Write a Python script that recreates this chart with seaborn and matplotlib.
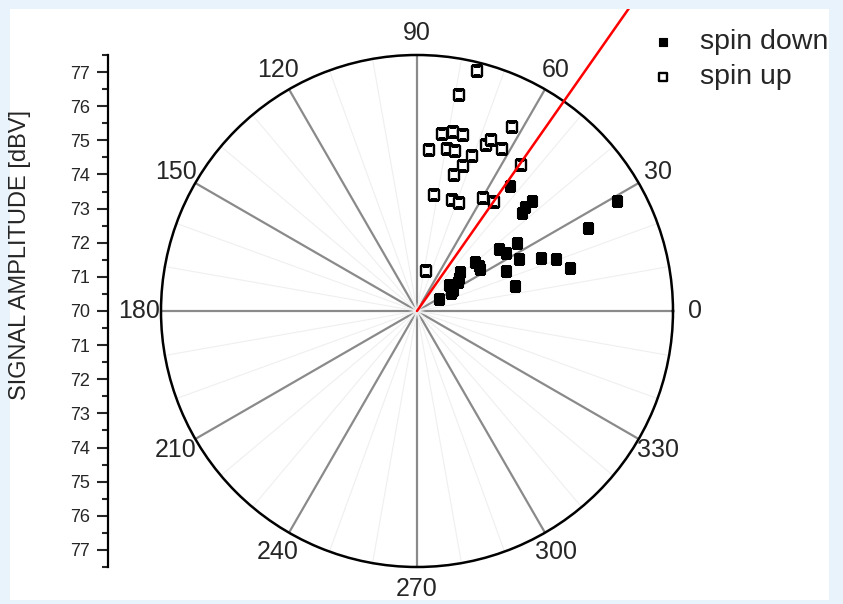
import numpy as np
import pandas as pd
import matplotlib
matplotlib.use('Agg')
import matplotlib.pyplot as plt
import seaborn as sns
from matplotlib.patches import Rectangle

sns.set_theme(style='white')
plt.rcParams['font.family'] = ['Liberation Sans', 'DejaVu Sans']

# spin down (filled squares): angle [deg], amplitude [dBV]
down_angle = [28.8, 25.8, 43.7, 43.9, 43.0, 53.4, 34.5, 37.1, 33.1, 27.2, 23.3, 20.6, 15.8,
              24.4, 14.5, 40.2, 36.4, 33.7, 42.2, 38.2, 39.1, 35.3, 27.9, 30.3, 28.6]
down_amp = [76.67, 75.57, 74.65, 74.38, 74.19, 74.55, 73.54, 73.03, 73.13, 73.35, 73.95, 74.35, 74.66,
            72.85, 72.96, 72.24, 72.24, 72.23, 71.71, 71.58, 71.22, 71.48, 71.13, 71.23, 70.74]

# spin up (open squares)
up_angle = [75.9, 79.0, 81.9, 78.6, 75.3, 62.8, 85.7, 79.4, 76.6, 70.3, 67.6, 66.5, 62.4,
            72.3, 54.6, 74.7, 81.6, 72.4, 68.6, 59.5, 54.9, 77.3]
up_amp = [77.24, 76.46, 75.24, 75.36, 75.34, 76.07, 74.73, 74.83, 74.82, 74.82, 75.27, 75.47, 75.36,
          74.46, 75.25, 74.13, 73.43, 73.40, 73.39, 73.83, 73.90, 71.21]

red_angle = 55.0
r_min, r_max = 70.0, 77.5
theta_labels = list(range(0, 360, 30))
scale_ticks = list(range(-7, 8))

df = pd.concat([
    pd.DataFrame({'theta': np.deg2rad(down_angle), 'amp': down_amp, 'spin': 'spin down'}),
    pd.DataFrame({'theta': np.deg2rad(up_angle), 'amp': up_amp, 'spin': 'spin up'}),
])

fig = plt.figure(figsize=(8.43, 6.04), dpi=100)
fig.patch.set_facecolor('#e9f3fc')
white = Rectangle((10 / 843, 4 / 604), 819 / 843, 591 / 604, transform=fig.transFigure,
                  facecolor='white', edgecolor='none', zorder=-10)
fig.patches.append(white)

ax = fig.add_axes([0.19098, 0.06126, 0.60735, 0.84768], projection='polar')
ax.set_facecolor('white')
ax.set_ylim(r_min, r_max)
ax.set_xticks(np.deg2rad(theta_labels))
ax.set_xticks(np.deg2rad([a for a in range(0, 360, 10) if a % 30]), minor=True)
ax.set_xticklabels([])
ax.xaxis.grid(True, which='major', color='#8a8a8a', linewidth=1.6)
ax.xaxis.grid(True, which='minor', color='#efefef', linewidth=0.8)
ax.yaxis.grid(False)
ax.set_yticks([])
ax.spines['polar'].set_color('black')
ax.spines['polar'].set_linewidth(1.8)
ax.tick_params(axis='x', which='both', length=0)

# angle labels round the circle
for a in theta_labels:
    ax.text(np.deg2rad(a), 78.15, str(a), ha='center', va='center', fontsize=18, clip_on=False)

sns.scatterplot(data=df[df.spin == 'spin down'], x='theta', y='amp', ax=ax, marker='s', s=48,
                color='black', edgecolor='black', linewidth=0.8, label='spin down', zorder=3)
sns.scatterplot(data=df[df.spin == 'spin up'], x='theta', y='amp', ax=ax, marker='s', s=46,
                color='white', edgecolor='black', linewidth=1.7, label='spin up', zorder=3)
ax.set_xlabel('')
ax.set_ylabel('')

red, = ax.plot([np.deg2rad(red_angle)] * 2, [r_min, 90], color='#ff0000', lw=1.8, zorder=4)
red.set_clip_path(white)
red.set_clip_on(True)

leg = ax.legend(loc='upper left', bbox_to_anchor=(650 / 843, 1 - 29 / 604),
                bbox_transform=fig.transFigure, frameon=False, fontsize=20.5,
                handlelength=0.9, handletextpad=0.85, labelspacing=0.33,
                borderpad=0, borderaxespad=0, markerscale=0.75)

# signal amplitude scale on the left (mirrored about 70)
sax = fig.add_axes([108 / 843, 0.06126, 0.01, 0.84768])
sax.set_facecolor('none')
sax.set_ylim(-(r_max - r_min), r_max - r_min)
for s in ['top', 'right', 'bottom']:
    sax.spines[s].set_visible(False)
sax.spines['left'].set_color('black')
sax.spines['left'].set_linewidth(1.6)
sax.set_xticks([])
sax.set_yticks(scale_ticks)
sax.set_yticklabels([str(int(r_min + abs(t))) for t in scale_ticks], fontsize=13)
sax.set_yticks(np.arange(-7.5, 7.6, 0.5), minor=True)
sax.tick_params(axis='y', which='major', direction='out', length=8, width=1.5, pad=5, left=True)
sax.tick_params(axis='y', which='minor', direction='out', length=4, width=1.5, left=True)

fig.text(20 / 843, 1 - 255 / 604, 'SIGNAL AMPLITUDE [dBV]', rotation=90,
         ha='center', va='center', fontsize=17)

fig.savefig('out.png', dpi=100, facecolor=fig.get_facecolor())
